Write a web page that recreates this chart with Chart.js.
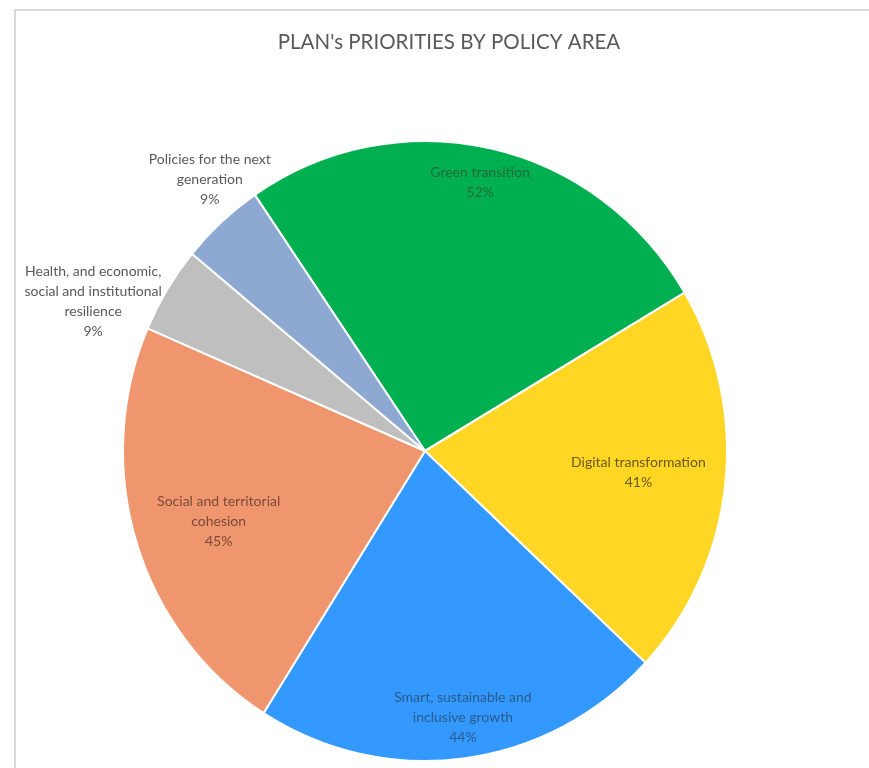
<!DOCTYPE html>
<html><head><meta charset="utf-8">
<script src="https://cdn.jsdelivr.net/npm/chart.js@4"></script>
<style>html,body{margin:0;padding:0;background:#fff}#wrap{width:869px;height:768px;position:relative}canvas{display:block}</style>
</head><body><div id="wrap"><canvas id="c" width="869" height="768"></canvas></div>
<script>
const chartTitle = "PLAN's PRIORITIES BY POLICY AREA";
const categories = ["Green transition", "Digital transformation", "Smart, sustainable and inclusive growth", "Social and territorial cohesion", "Health, and economic, social and institutional resilience", "Policies for the next generation"];
const values = [52, 41, 44, 45, 9, 9];
const labelLines = [["Green transition"], ["Digital transformation"], ["Smart, sustainable and", "inclusive growth"], ["Social and territorial", "cohesion"], ["Health, and economic,", "social and institutional", "resilience"], ["Policies for the next", "generation"]];

const sliceColors = ["#00B050", "#FFD624", "#3399FF", "#F0966E", "#BFBFBF", "#8EA9D1"];
const textColors = ["#1f6b3c", "#665a1e", "#2b5a8c", "#7a4b3a", "#595959", "#595959"];
const labelRadius = [0.885, 0.71, 0.87, 0.72, 1.20, 1.13];
const labelAngleShift = [-0.6, -0.6, -1, -1.2, -7.7, 3.3];
const SY = 1.0265;
const FONT = "Lato, 'Open Sans', sans-serif";

const decor = {
  id: 'decor',
  beforeDraw(chart) {
    const ctx = chart.ctx;
    ctx.save();
    ctx.fillStyle = '#ffffff';
    ctx.fillRect(0, 0, chart.width, chart.height);
    ctx.strokeStyle = '#dadada';
    ctx.lineWidth = 2;
    ctx.beginPath();
    ctx.moveTo(15, chart.height); ctx.lineTo(15, 10); ctx.lineTo(chart.width, 10);
    ctx.stroke();
    ctx.fillStyle = '#595959';
    ctx.font = "20.5px " + FONT;
    ctx.textAlign = 'center'; ctx.textBaseline = 'middle';
    ctx.fillText(chartTitle, 449, 42);
    ctx.restore();
  },
  beforeDatasetsDraw(chart) {
    const ctx = chart.ctx;
    const a = chart.chartArea;
    const cy = (a.top + a.bottom) / 2;
    ctx.save();
    ctx.translate(0, cy);
    ctx.scale(1, SY);
    ctx.translate(0, -cy);
  },
  afterDatasetsDraw(chart) {
    const ctx = chart.ctx;
    ctx.restore();
    const meta = chart.getDatasetMeta(0);
    ctx.save();
    ctx.font = "14px " + FONT;
    ctx.textAlign = 'center'; ctx.textBaseline = 'middle';
    meta.data.forEach((arc, i) => {
      const p = arc.getProps(['x', 'y', 'startAngle', 'endAngle', 'outerRadius'], true);
      const mid = (p.startAngle + p.endAngle) / 2 + labelAngleShift[i] * Math.PI / 180;
      const r = p.outerRadius * labelRadius[i];
      const cx = p.x + Math.cos(mid) * r;
      const cy = p.y + Math.sin(mid) * r * SY;
      const lines = labelLines[i].concat([values[i] + '%']);
      const lh = 20;
      const top = cy - (lines.length - 1) * lh / 2;
      ctx.fillStyle = textColors[i];
      lines.forEach((t, k) => ctx.fillText(t, cx, top + k * lh));
    });
    ctx.restore();
  }
};

new Chart(document.getElementById('c'), {
  type: 'pie',
  data: {
    labels: categories,
    datasets: [{
      data: values,
      backgroundColor: sliceColors,
      borderColor: '#ffffff',
      borderWidth: 2
    }]
  },
  options: {
    responsive: false,
    animation: false,
    devicePixelRatio: 1,
    rotation: -34.3,
    layout: { padding: { left: 122, right: 141, top: 148, bottom: 14 } },
    plugins: { legend: { display: false }, title: { display: false }, tooltip: { enabled: false } }
  },
  plugins: [decor]
});
</script>
</body></html>
